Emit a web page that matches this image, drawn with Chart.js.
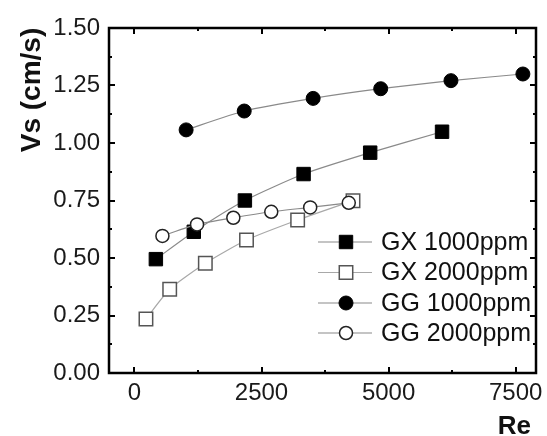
<!DOCTYPE html>
<html>
<head>
<meta charset="utf-8">
<script src="https://cdn.jsdelivr.net/npm/chart.js@4"></script>
<style>
html,body{margin:0;padding:0;background:#fff;}
#wrap{width:547px;height:436px;position:relative;}
</style>
</head>
<body>
<div id="wrap"><canvas id="c" width="547" height="436"></canvas></div>
<script>
// ---- data ----
const seriesNames = ['GX 1000ppm', 'GX 2000ppm', 'GG 1000ppm', 'GG 2000ppm'];
const gx1000Re = [422, 1168, 2173, 3328, 4638, 6052];
const gx1000Vs = [0.495, 0.614, 0.750, 0.865, 0.958, 1.049];
const gx2000Re = [227, 694, 1395, 2205, 3211, 4300];
const gx2000Vs = [0.235, 0.364, 0.477, 0.578, 0.665, 0.749];
const gg1000Re = [1017, 2160, 3516, 4845, 6227, 7642];
const gg1000Vs = [1.057, 1.139, 1.194, 1.236, 1.271, 1.300];
const gg2000Re = [551, 1232, 1946, 2692, 3458, 4217];
const gg2000Vs = [0.596, 0.646, 0.675, 0.701, 0.720, 0.740];
const xTickValues = [0, 2500, 5000, 7500];
const xTickLabels = ['0', '2500', '5000', '7500'];
const yTickValues = [0, 0.25, 0.5, 0.75, 1.0, 1.25, 1.5];
const yTickLabels = ['0.00', '0.25', '0.50', '0.75', '1.00', '1.25', '1.50'];
const xTitle = 'Re';
const yTitle = 'Vs (cm/s)';

const FONT = '"Liberation Sans", Arial, sans-serif';

function pts(xs, ys){ return xs.map((x,i)=>({x:x, y:ys[i]})); }

const datasets = [
  {label: seriesNames[0], data: pts(gx1000Re, gx1000Vs), pointStyle:'rect', pointRadius:9.5,
   backgroundColor:'#000', borderColor:'#8a8a8a', pointBorderColor:'#000', pointBackgroundColor:'#000', pointBorderWidth:1, order:2},
  {label: seriesNames[1], data: pts(gx2000Re, gx2000Vs), pointStyle:'rect', pointRadius:9.5,
   backgroundColor:'#fff', borderColor:'#a8a8a8', pointBorderColor:'#555', pointBackgroundColor:'#fff', pointBorderWidth:1.5, order:3},
  {label: seriesNames[2], data: pts(gg1000Re, gg1000Vs), pointStyle:'circle', pointRadius:7,
   backgroundColor:'#000', borderColor:'#8a8a8a', pointBorderColor:'#000', pointBackgroundColor:'#000', pointBorderWidth:1, order:1},
  {label: seriesNames[3], data: pts(gg2000Re, gg2000Vs), pointStyle:'circle', pointRadius:6.5,
   backgroundColor:'#fff', borderColor:'#8a8a8a', pointBorderColor:'#222', pointBackgroundColor:'#fff', pointBorderWidth:1.5, order:0}
];
datasets.forEach(d=>{ d.borderWidth = 1.2; d.tension = 0.2; d.showLine = true; d.fill = false; d.pointHoverRadius = d.pointRadius; });

const decorPlugin = {
  id: 'decor',
  afterDatasetsDraw(chart){
    const ctx = chart.ctx, a = chart.chartArea;
    const xs = chart.scales.x, ys = chart.scales.y;
    ctx.save();
    ctx.strokeStyle = '#000';
    // ticks (inward, all four sides)
    ctx.lineWidth = 2;
    const xMaj = xTickValues, xMin = [];
    for (let i=0;i<xMaj.length;i++){ xMin.push(xMaj[i] + 1250); }
    const yMin = [];
    for (let i=0;i<yTickValues.length-1;i++){ yMin.push((yTickValues[i]+yTickValues[i+1])/2); }
    function xt(v, len){
      const p = Math.round(xs.getPixelForValue(v)) + 0.0;
      if (p < a.left+2 || p > a.right-2) return;
      ctx.beginPath(); ctx.moveTo(p, a.bottom); ctx.lineTo(p, a.bottom-len);
      ctx.moveTo(p, a.top); ctx.lineTo(p, a.top+len); ctx.stroke();
    }
    function yt(v, len){
      const p = Math.round(ys.getPixelForValue(v));
      if (p < a.top+2 || p > a.bottom-2) return;
      ctx.beginPath(); ctx.moveTo(a.left, p); ctx.lineTo(a.left+len, p);
      ctx.moveTo(a.right, p); ctx.lineTo(a.right-len, p); ctx.stroke();
    }
    xMaj.forEach(v=>xt(v,6)); xMin.forEach(v=>xt(v,3));
    yTickValues.forEach(v=>yt(v,6)); yMin.forEach(v=>yt(v,3));
    // frame
    ctx.lineWidth = 2.5;
    ctx.strokeRect(a.left, a.top, a.right-a.left, a.bottom-a.top);

    // legend
    const rowY = [242, 272.5, 303, 333];
    const lx0 = 318, lx1 = 372, mx = 346, tx = 381;
    chart.data.datasets.forEach((d,i)=>{
      const y = rowY[i];
      ctx.beginPath(); ctx.strokeStyle = d.borderColor; ctx.lineWidth = 1.2;
      ctx.moveTo(lx0, y); ctx.lineTo(lx1, y); ctx.stroke();
      ctx.fillStyle = d.pointBackgroundColor; ctx.strokeStyle = d.pointBorderColor; ctx.lineWidth = d.pointBorderWidth;
      ctx.beginPath();
      if (d.pointStyle === 'rect'){
        const s = Math.SQRT1_2 * d.pointRadius;
        ctx.rect(mx - s, y - s, 2*s, 2*s);
      } else {
        ctx.arc(mx, y, d.pointRadius, 0, Math.PI*2);
      }
      ctx.fill(); ctx.stroke();
      ctx.fillStyle = '#111'; ctx.font = '25px ' + FONT;
      ctx.textAlign = 'left'; ctx.textBaseline = 'middle';
      ctx.fillText(d.label, tx, y + 1);
    });

    // axis titles
    ctx.fillStyle = '#111';
    ctx.font = 'bold 26px ' + FONT;
    ctx.textAlign = 'right'; ctx.textBaseline = 'alphabetic';
    ctx.fillText(xTitle, 531, 434);
    ctx.save();
    ctx.translate(40, 90);
    ctx.rotate(-Math.PI/2);
    ctx.font = 'bold 28px ' + FONT;
    ctx.textAlign = 'center';
    ctx.fillText(yTitle, 0, 0);
    ctx.restore();
    ctx.restore();
  }
};

new Chart(document.getElementById('c'), {
  type: 'scatter',
  data: { datasets: datasets },
  options: {
    responsive: false,
    animation: false,
    devicePixelRatio: 1,
    layout: { padding: { top: 28, right: 6, left: 0, bottom: 0 } },
    plugins: { legend: { display: false }, tooltip: { enabled: false } },
    scales: {
      x: {
        type: 'linear', min: -500, max: 7900,
        grid: { display: false, drawTicks: false },
        border: { display: false },
        afterBuildTicks: s => { s.ticks = xTickValues.map(v=>({value:v})); },
        afterFit: s => { s.height = 63; s.paddingLeft = 0; s.paddingRight = 0; },
        ticks: { padding: 6, color: '#1a1a1a', font: { family: FONT, size: 24 },
          callback: (v) => { const i = xTickValues.indexOf(v); return i >= 0 ? xTickLabels[i] : ''; } }
      },
      y: {
        type: 'linear', min: 0, max: 1.5,
        grid: { display: false, drawTicks: false },
        border: { display: false },
        afterBuildTicks: s => { s.ticks = yTickValues.map(v=>({value:v})); },
        afterFit: s => { s.width = 109; s.paddingTop = 0; s.paddingBottom = 0; },
        ticks: { padding: 9, color: '#1a1a1a', font: { family: FONT, size: 24 },
          callback: (v) => { const i = yTickValues.indexOf(v); return i >= 0 ? yTickLabels[i] : ''; } }
      }
    }
  },
  plugins: [decorPlugin]
});
</script>
</body>
</html>
